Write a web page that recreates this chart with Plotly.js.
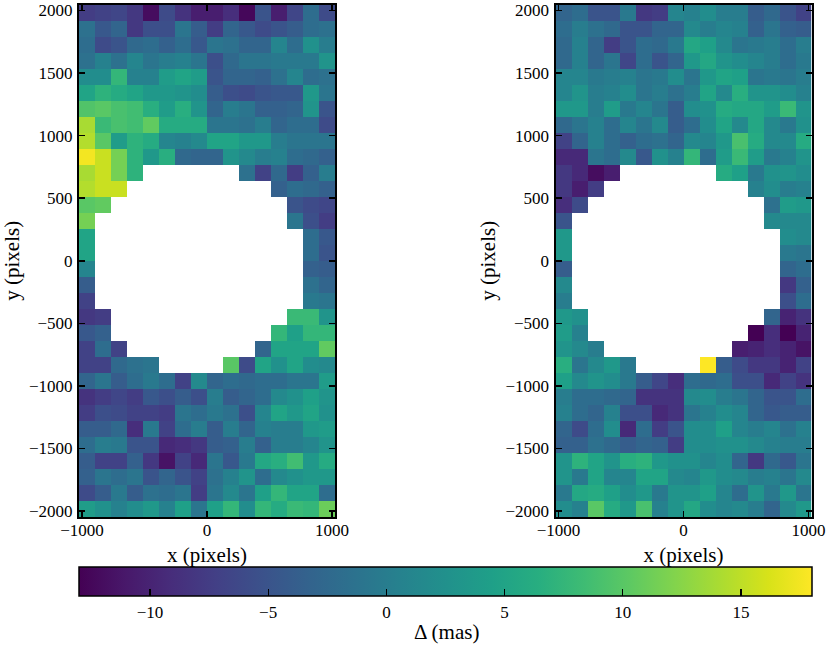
<!DOCTYPE html>
<html>
<head>
<meta charset="utf-8">
<script src="https://cdn.plot.ly/plotly-3.0.1.min.js"></script>
<style>html,body{margin:0;padding:0;background:#fff}</style>
</head>
<body>
<div id="chart" style="width:831px;height:651px"></div>
<script>
var _ = null;
var xCenters = [-960,-832,-704,-576,-448,-320,-192,-64,64,192,320,448,576,704,832,960];
var yCenters = [1984,1856,1728,1600,1472,1344,1216,1088,960,832,704,576,448,320,192,64,
  -64,-192,-320,-448,-576,-704,-832,-960,-1088,-1216,-1344,-1472,-1600,-1728,-1856,-1984];
var xTicks = [-1000,0,1000];
var yTicks = [-2000,-1500,-1000,-500,0,500,1000,1500,2000];
var barTicks = [-10,-5,0,5,10,15];
var leftValues = [
[-7.5,-7,-6.5,-8,-12,-6,-8.5,-10.5,-10.5,-9,-12.5,-5,-10.5,-6.5,-2,-6],
[-1.5,-4.5,-3,-8,-5.5,-5.5,-1,-4,-7.5,-3,-4.5,-6,-5,-4,-2,-1.5],
[-2,-6,-5,-2.5,-2,-3.5,-2,-4.5,-1,-1.5,-3,-3,1,-2,2.5,0],
[-1.5,0.5,-1.5,1,-1,0,0.5,-1,-5.5,-2.5,-1,-1,-0.5,-0.5,-0.5,3],
[2,2,7.5,0.5,0.5,4,5,4,-5,-3,-3,-3.5,-1.5,1,-2,-1.5],
[5,7,6,5,3.5,3.5,3,2,-4,-5.5,-6,-5,-4.5,-4.5,3.5,-1],
[9.5,10,9,8.5,6.5,4,6.5,3,-3,0,-1,-3.5,-3.5,-3,3,-5],
[14,8,9,8.5,10.5,6,6,6,-1,-1,-1.5,0,-3,-2,-2,-6],
[14.5,10,4,7,6,1,0.5,1.5,5,5,3.5,3.5,0,-1,-1,-1],
[17.5,15.5,11.5,7,3.5,6.5,-2.5,-3,-3,3,1.5,0,0.5,-2,-2.5,-3.5],
[14,15.5,11.5,7,_,_,_,_,_,_,-1.5,-7,-2.5,-7.5,-3.5,0],
[14.5,15.5,15.5,_,_,_,_,_,_,_,_,_,-3.5,-2,-2.5,-3.5],
[10,10.5,_,_,_,_,_,_,_,_,_,_,_,-5,-6,-6.5],
[11.5,_,_,_,_,_,_,_,_,_,_,_,_,-1,-5.5,-7.5],
[5,_,_,_,_,_,_,_,_,_,_,_,_,_,-2,-4.5],
[5,_,_,_,_,_,_,_,_,_,_,_,_,_,-2,-5],
[1,_,_,_,_,_,_,_,_,_,_,_,_,_,-3.5,-4],
[-4,_,_,_,_,_,_,_,_,_,_,_,_,_,-1.5,-3],
[-7,_,_,_,_,_,_,_,_,_,_,_,_,_,-0.5,-1],
[-8,-7.5,_,_,_,_,_,_,_,_,_,_,_,8,8,3],
[-4.5,-3.5,_,_,_,_,_,_,_,_,_,_,7.5,4.5,7.5,7.5],
[-7,-2,-7,_,_,_,_,_,_,_,_,-3,5,5,5,10.5],
[-7,-7,-2.5,-1.5,-1,_,_,_,_,10,-6,5,2.5,5,2,1.5],
[-3,-1,-4,-2,-0.5,-2,-7,1.5,-3,-2,-2.5,-2,-2,-1,-1,4],
[-8.5,-7.5,-6.5,-7.5,-4.5,-5.5,-4,-5.5,0,-4,-3,-2,1.5,2.5,4.5,3],
[-7.5,-5.5,-6,-7,-7,-7.5,-1,-2,-0.5,-1.5,-5.5,1,5,3.5,5,2.5],
[-4,-4,-2.5,-9,-0.5,-7,-2,0,-4,0,-3,0.5,0,0,3.5,4],
[-2,0,-0.5,-5,-5,-9.5,-9,-8,-4,-3.5,0,-3.5,0,0,1,3],
[-4,-7,-7,-3.5,-8,-11.5,-7,-9.5,-1,-4.5,-0.5,5.5,6.5,8.5,3.5,6],
[-3.5,-1,-2,-1,-5,-3,-5,-7,-1.5,0.5,3,-2,1.5,2.5,3.5,3.5],
[-6,-4,-0.5,-4,-1.5,-2,-1,-7.5,-1,1.5,-1,4.5,7.5,5,5,-2],
[4,2.5,0.5,2,3.5,0.5,4.5,-1,4.5,7.5,2,7.5,6,8,7.5,11]
];
var rightValues = [
[-3,-2,-5,-5,-0.5,-8,-7.5,1,0.5,2,0,0,-4,-2.5,-5,-7],
[-2,0,-1.5,-2.5,-5,-5,-3,-3,1.5,0,1,0.5,-3.5,-1,-3.5,-4],
[-2.5,0.5,-3,-7.5,-5,-2,-2.5,-0.5,5.5,4.5,1.5,-1,-0.5,0,-2,0],
[-2.5,0.5,-3,-1,-6.5,-2,-5,-3,3.5,5.5,3,2,1,0,-2,-0.5],
[1,1,-0.5,0,0.5,-1,-0.5,2,-1,3.5,5,4.5,-1,-0.5,-1,0],
[1,3,0,0.5,2,-1,0,-1.5,0,5,1.5,6.5,3,3,2,0.5],
[3.5,3.5,0,4,-0.5,1,-1,-4,2,2.5,6,5.5,5.5,4,8,3],
[-2.5,-1,0.5,-2,1,-1,1.5,-4,-2,2,5,1.5,5.5,1.5,-0.5,2.5],
[-7,-3,0.5,-2,-3.5,-2,-1.5,-3,1.5,1,3.5,9,6,1.5,1.5,6],
[-9.5,-9.5,-1,-2,1.5,-4.5,2.5,0.5,7.5,-2,4,8,4,-0.5,0.5,3],
[-8,-9.5,-12,-10.5,_,_,_,_,_,_,6,4.5,-0.5,2.5,3,2],
[-8,-10.5,-7.5,_,_,_,_,_,_,_,_,_,0.5,2,0,0.5],
[-9,-6,_,_,_,_,_,_,_,_,_,_,_,-1.5,4,3.5],
[-5,_,_,_,_,_,_,_,_,_,_,_,_,1.5,1.5,1.5],
[3.5,_,_,_,_,_,_,_,_,_,_,_,_,_,2,1.5],
[3.5,_,_,_,_,_,_,_,_,_,_,_,_,_,-0.5,-1],
[-4,_,_,_,_,_,_,_,_,_,_,_,_,_,-3,-2],
[1.5,_,_,_,_,_,_,_,_,_,_,_,_,_,-8,-3.5],
[0,_,_,_,_,_,_,_,_,_,_,_,_,_,-5.5,-2],
[3.5,2.5,_,_,_,_,_,_,_,_,_,_,_,-3,-10,-8.5],
[4,0.5,_,_,_,_,_,_,_,_,_,_,-13,-9,-13,-10],
[3,1.5,0,_,_,_,_,_,_,_,_,-10.5,-10,-9,-10,-11.5],
[6.5,-1,1.5,3.5,-0.5,_,_,_,_,18,-4,-6,-8,-8,-10,-7],
[4.5,1.5,3,2,-0.5,-4,-6.5,-9,-2,-2.5,-2,-5.5,-5.5,-9.5,-7,-8.5],
[0,-2,-2,-2.5,-3,-8.5,-8.5,-8.5,1.5,2,0,-1,-3,-5,-5,-2],
[0.5,-2,-3,0.5,-5.5,-5.5,-9.5,-8.5,-1,0.5,2,1,-3,-4.5,-4,-4],
[-3,-6,-2,2,-9.5,-2,-7.5,-5,2,2,4.5,1,0,1,-1.5,0.5],
[-3.5,-3.5,-1.5,-2.5,-4,-3,-3.5,-7.5,2,2,2.5,2.5,1.5,0.5,0,0],
[3,7,5,3,6.5,7,3.5,2.5,2.5,1,2,-3,-8,-2.5,-4.5,-1],
[3,-0.5,5,1,1,5,5,1.5,1,3.5,2,1.5,0,0.5,-1,1.5],
[-0.5,5.5,6,4.5,2,3.5,-0.5,3,3,4.5,1,-2,3,-0.5,3.5,-1],
[2,0.5,10,6,3.5,9,0.5,3,5.5,2,1,1.5,0,-3,1.5,3.5]
];
var W = 831, H = 651;
var serif = "'Liberation Serif','Times New Roman',serif";
function xAxis(dom, anchor){
  return {domain:[dom[0]/W, dom[1]/W], anchor:anchor, range:[-1024,1024], tickmode:'array', tickvals:xTicks,
    ticks:'inside', ticklen:6, tickwidth:1.5, tickcolor:'#000', mirror:'ticks', showline:true, linecolor:'#000', linewidth:2,
    showgrid:false, zeroline:false, tickfont:{family:serif,size:17,color:'#000'}, ticklabelstandoff:-3,
    title:{text:'x (pixels)', font:{family:serif,size:21,color:'#000'}, standoff:8}, automargin:false};
}
function yAxis(anchor){
  return {domain:[1-517/H, 1-4.5/H], anchor:anchor, range:[-2048,2048], tickmode:'array', tickvals:yTicks,
    ticks:'inside', ticklen:6, tickwidth:1.5, tickcolor:'#000', mirror:'ticks', showline:true, linecolor:'#000', linewidth:2,
    showgrid:false, zeroline:false, tickfont:{family:serif,size:17,color:'#000'}, ticklabelstandoff:1,
    title:{text:'y (pixels)', font:{family:serif,size:21,color:'#000'}, standoff:4}, automargin:false};
}
var traces = [
 {type:'heatmap', x:xCenters, y:yCenters, z:leftValues, xaxis:'x', yaxis:'y', colorscale:'Viridis', zmin:-13, zmax:18, zsmooth:false, hoverongaps:false,
  colorbar:{orientation:'h', x:79/W, xanchor:'left', xref:'paper', y:1-567/H, yanchor:'top', yref:'paper', lenmode:'fraction', len:733/W, thicknessmode:'pixels', thickness:29,
    xpad:0, ypad:0, outlinewidth:1.5, outlinecolor:'#000', ticks:'inside', ticklen:7, tickwidth:1.2, tickcolor:'#000',
    tickmode:'array', tickvals:barTicks, tickfont:{family:serif,size:17,color:'#000'}}},
 {type:'heatmap', x:xCenters, y:yCenters, z:rightValues, xaxis:'x2', yaxis:'y2', colorscale:'Viridis', zmin:-13, zmax:18, zsmooth:false, hoverongaps:false, showscale:false}
];
var layout = {
  width:W, height:H, margin:{l:0,r:0,t:0,b:0}, paper_bgcolor:'#fff', plot_bgcolor:'#fff', showlegend:false,
  font:{family:serif,color:'#000'},
  xaxis:xAxis([79,335],'y'), yaxis:yAxis('x'),
  xaxis2:xAxis([555.5,811.5],'y2'), yaxis2:yAxis('x2'),
  annotations:[{xref:'paper', yref:'paper', x:446/W, y:1-632/H, xanchor:'center', yanchor:'middle', showarrow:false,
    text:'Δ (mas)', font:{family:serif,size:21,color:'#000'}}]
};
Plotly.newPlot('chart', traces, layout, {displayModeBar:false, staticPlot:true});
</script>
</body>
</html>
